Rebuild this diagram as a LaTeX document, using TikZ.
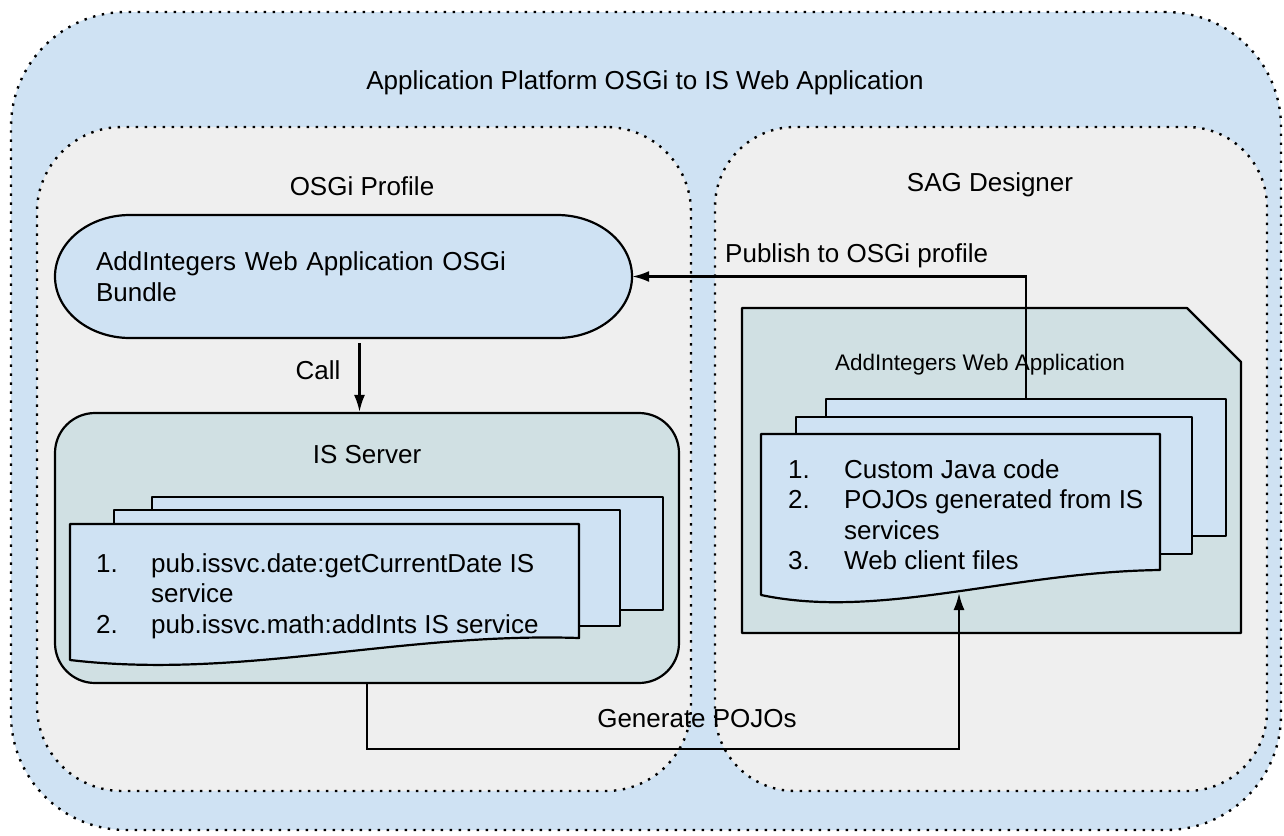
\documentclass[tikz,border=0pt]{standalone}
\usepackage{fontspec}
\setmainfont{Liberation Sans}
\usepackage{array}
\usetikzlibrary{arrows.meta, positioning}

\definecolor{outerblue}{HTML}{CFE2F3}
\definecolor{regiongrey}{HTML}{EFEFEF}
\definecolor{servergrey}{HTML}{D0E0E3}
\definecolor{sheetblue}{HTML}{CFE2F3}

\begin{document}
\begin{tikzpicture}[
  x=1pt, y=1pt,
  >=Latex,
  font=\fontsize{26}{30.5}\selectfont,
  region/.style={draw, dash pattern=on 2.4pt off 6.6pt, line width=2.4pt},
  shapeline/.style={draw, line width=2.2pt, line join=round},
  serverbox/.style={shapeline, fill=servergrey, rounded corners=40pt},
  sheet/.style={shapeline, fill=sheetblue, anchor=north west, inner sep=0pt},
  lbl/.style={inner sep=0pt},
  arrow/.style={-{Latex[length=17pt,width=11pt]}, line width=2.2pt}
]
\useasboundingbox (0,0) rectangle (1284,-835);

% Dotted regions
\node[region, fill=outerblue, rounded corners=115pt, minimum width=1270pt, minimum height=818pt] (platform) at (646,-421) {};
\node[lbl, anchor=base] (title) at (645,-89) {Application Platform OSGi to IS Web Application};
\node[region, fill=regiongrey, rounded corners=85pt, minimum width=654pt, minimum height=664pt] (osgi) at (364,-459) {};
\node[region, fill=regiongrey, rounded corners=80pt, minimum width=552pt, minimum height=664pt] (sag) at (991,-459) {};
\node[lbl, anchor=base] (osgititle) at (362,-195) {OSGi Profile};
\node[lbl, anchor=base] (sagtitle) at (990,-191) {SAG Designer};

% Bundle (terminator shape)
\draw[shapeline, fill=sheetblue] (130,-215) -- (557,-215)
  arc[start angle=90, end angle=-90, x radius=75pt, y radius=61.5pt] -- (130,-338)
  arc[start angle=270, end angle=90, x radius=75pt, y radius=61.5pt] -- cycle;
\node[inner xsep=41pt, inner ysep=0pt, text width=495pt, align=left, minimum width=577pt, minimum height=123pt] (bundle) at (343.5,-276.5) {AddIntegers Web Application OSGi\\Bundle};

% IS Server with its stack of sheets
\node[serverbox, minimum width=624pt, minimum height=270pt] (server) at (367,-548) {};
\node[lbl, anchor=base] (servertitle) at (367,-463) {IS Server};
\node[sheet, minimum width=511pt, minimum height=113pt] (isback) at (151,-496) {};
\node[sheet, minimum width=506pt, minimum height=116pt] (ismid) at (113,-509) {};
\draw[shapeline, fill=sheetblue] (70,-524) -- (579,-524) -- (579,-638)
  .. controls (400,-632) and (240,-680) .. (70,-660) -- cycle;
\node[lbl, anchor=base west] (islist) at (96,-572) {\begin{tabular}[t]{@{}p{55pt}@{}l@{}}
  1. & pub.issvc.date:getCurrentDate IS\\
     & service\\
  2. & pub.issvc.math:addInts IS service
\end{tabular}};

% Web application folder in the designer
\draw[shapeline, fill=servergrey] (742,-308) -- (1187,-308) -- (1241,-362) -- (1241,-633) -- (742,-633) -- cycle;
\node[lbl, anchor=base, font=\fontsize{22.5}{26}\selectfont] (webapptitle) at (980,-370) {AddIntegers Web Application};
\node[sheet, minimum width=400pt, minimum height=137pt] (sagback) at (825,-398) {};
\node[sheet, minimum width=396pt, minimum height=137pt] (sagmid) at (795,-416) {};
\draw[shapeline, fill=sheetblue] (761,-434) -- (1160,-434) -- (1160,-570)
  .. controls (1010,-572) and (880,-620) .. (761,-595) -- cycle;
\node[lbl, anchor=base west] (saglist) at (788,-478) {\begin{tabular}[t]{@{}p{56pt}@{}l@{}}
  1. & Custom Java code\\
  2. & POJOs generated from IS\\
     & services\\
  3. & Web client files
\end{tabular}};

% Arrows
\coordinate[below right=5pt and 16pt of bundle.south] (callstart);
\draw[arrow] (callstart) -- (callstart |- server.north) node[lbl, pos=0.4, left=18pt] (calllbl) {Call};

\draw[arrow] (sagback.north) |- (bundle.east);
\node[lbl, anchor=base west] (publbl) at (725,-262) {Publish to OSGi profile};

\coordinate (pojoin) at (959,-593);
\draw[arrow] (server.south) -- ++(0,-65) -| (pojoin);
\node[lbl, anchor=base] (genlbl) at (697,-727) {Generate POJOs};

\end{tikzpicture}
\end{document}
